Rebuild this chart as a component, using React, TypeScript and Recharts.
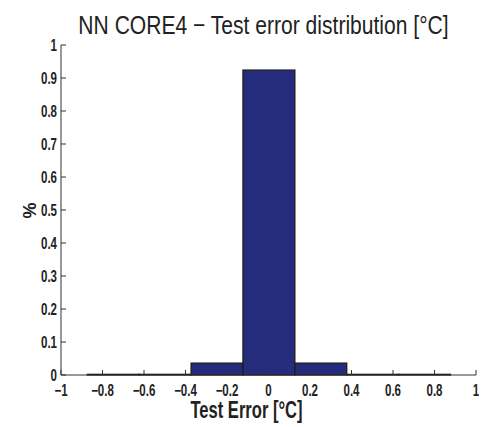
import { Bar, BarChart, XAxis, YAxis, Label } from "recharts";

// histogram bins of the test error (bin centres, 0.25 wide) and their share
const binCenters = [-0.75, -0.5, -0.25, 0, 0.25, 0.5, 0.75];
const binShare = [0.002, 0.002, 0.036, 0.924, 0.036, 0.002, 0.002];
const binWidth = 0.25;
const xTicks = [-1, -0.8, -0.6, -0.4, -0.2, 0, 0.2, 0.4, 0.6, 0.8, 1];
const yTicks = [0, 0.1, 0.2, 0.3, 0.4, 0.5, 0.6, 0.7, 0.8, 0.9, 1];

const data = binCenters.map((x, i) => ({ x, share: binShare[i] }));

const W = 479;
const H = 419;
const margin = { top: 37, right: 11, bottom: 22, left: 13 };
const yAxisW = 40;
const plotW = W - margin.left - margin.right - yAxisW;
const binWidthPx = (binWidth / 2) * plotW;

const font = "'Liberation Sans', Arial, sans-serif";
const axisColor = "#333";
const textColor = "#222";
const narrow = 0.72;

const fmt = (v: number) => (v < 0 ? `\u2212${Math.abs(v)}` : `${v}`);

const NarrowText = ({ x, y, anchor, size, children, rotate = 0 }: any) => (
  <text
    transform={`translate(${x},${y}) rotate(${rotate}) scale(${narrow},1)`}
    textAnchor={anchor}
    fontFamily={font}
    fontWeight="bold"
    fontSize={size}
    fill={textColor}
  >
    {children}
  </text>
);

const BottomTick = (props: any) => {
  const { x, y, payload } = props;
  return (
    <g>
      <line x1={x} y1={y} x2={x} y2={y - 5} stroke={axisColor} />
      <NarrowText x={x} y={y + 21} anchor="middle" size={16}>
        {fmt(payload.value)}
      </NarrowText>
    </g>
  );
};

const TopTick = (props: any) => {
  const { x, y } = props;
  return <line x1={x} y1={y} x2={x} y2={y + 5} stroke={axisColor} />;
};

const LeftTick = (props: any) => {
  const { x, y, payload } = props;
  return (
    <g>
      <line x1={x} y1={y} x2={x + 5} y2={y} stroke={axisColor} />
      <NarrowText x={x - 4} y={y + 5.5} anchor="end" size={16}>
        {payload.value}
      </NarrowText>
    </g>
  );
};

const RightTick = (props: any) => {
  const { x, y } = props;
  return <line x1={x} y1={y} x2={x - 5} y2={y} stroke={axisColor} />;
};

// histogram bar: centred on the bin, spanning the full bin width
const BinBar = (props: any) => {
  const { x, y, width, height, fill } = props;
  const cx = x + width / 2;
  return (
    <rect
      x={cx - binWidthPx / 2}
      y={y}
      width={binWidthPx}
      height={Math.max(height, 0)}
      fill={fill}
      stroke="#1c1c1c"
      strokeWidth={1.3}
    />
  );
};

export default function App() {
  return (
    <div style={{ position: "relative", width: W, height: H, background: "#fff" }}>
      <div
        style={{
          position: "absolute",
          top: 2,
          left: 0,
          width: W,
          textAlign: "center",
          fontFamily: font,
          fontSize: 26,
          lineHeight: "30px",
          color: textColor,
          whiteSpace: "nowrap",
          transform: "translateX(16px) scaleX(0.81)",
        }}
      >
        NN CORE4 {"\u2212"} Test error distribution [°C]
      </div>
      <BarChart width={W} height={H} data={data} margin={margin} barCategoryGap={0} barGap={0}>
        <XAxis
          xAxisId="bottom"
          dataKey="x"
          type="number"
          domain={[-1, 1]}
          ticks={xTicks}
          orientation="bottom"
          height={30}
          tickSize={0}
          tickMargin={0}
          tickLine={false}
          tick={<BottomTick />}
          axisLine={{ stroke: axisColor }}
          interval={0}
        >
          <Label
            content={(p: any) => {
              const vb = p.viewBox;
              return (
                <NarrowText x={vb.x + vb.width / 2 - 22} y={vb.y + 43} anchor="middle" size={23}>
                  Test Error [°C]
                </NarrowText>
              );
            }}
          />
        </XAxis>
        <XAxis
          xAxisId="top"
          dataKey="x"
          type="number"
          domain={[-1, 1]}
          ticks={xTicks}
          orientation="top"
          height={0}
          tickSize={0}
          tickMargin={0}
          tickLine={false}
          tick={<TopTick />}
          axisLine={{ stroke: axisColor }}
          interval={0}
        />
        <YAxis
          yAxisId="left"
          type="number"
          domain={[0, 1]}
          ticks={yTicks}
          width={yAxisW}
          tickSize={0}
          tickMargin={0}
          tickLine={false}
          tick={<LeftTick />}
          axisLine={{ stroke: axisColor }}
          interval={0}
        >
          <Label
            content={(p: any) => {
              const vb = p.viewBox;
              return (
                <text
                  transform={`translate(${vb.x + 15},${vb.y + vb.height / 2 + 0.5}) rotate(-90)`}
                  textAnchor="middle"
                  fontFamily={font}
                  fontWeight="bold"
                  fontSize={18}
                  fill={textColor}
                >
                  %
                </text>
              );
            }}
          />
        </YAxis>
        <YAxis
          yAxisId="right"
          orientation="right"
          type="number"
          domain={[0, 1]}
          ticks={yTicks}
          width={0}
          tickSize={0}
          tickMargin={0}
          tickLine={false}
          tick={<RightTick />}
          axisLine={{ stroke: axisColor }}
          interval={0}
        />
        <Bar
          xAxisId="bottom"
          yAxisId="left"
          dataKey="share"
          barSize={binWidthPx}
          fill="#262c7c"
          shape={<BinBar />}
          isAnimationActive={false}
        />
      </BarChart>
    </div>
  );
}
